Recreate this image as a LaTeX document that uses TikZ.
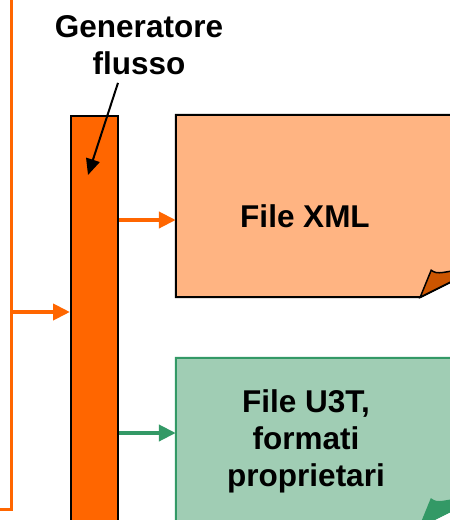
\documentclass[tikz,border=0pt]{standalone}
\usepackage{fontspec}
\setmainfont{Liberation Sans}
\usetikzlibrary{arrows.meta}

\definecolor{barorange}{HTML}{FF6600}
\definecolor{xmlfill}{HTML}{FFB482}
\definecolor{xmlfold}{HTML}{CC5500}
\definecolor{u3tfill}{HTML}{A0CDB4}
\definecolor{u3tline}{HTML}{339966}

\tikzset{
  label text/.style={font=\bfseries\fontsize{31.5}{37}\selectfont, align=center, inner sep=0pt},
  filebox/.style={rectangle, inner sep=0pt, minimum width=294pt},
  feed/.style={barorange, line width=3pt},
  flow/.style={line width=4pt, -{Triangle[length=17pt, width=16pt]}}
}

\begin{document}
\begin{tikzpicture}[x=1pt, y=-1pt]
  \useasboundingbox (0,0) rectangle (450,520);
  \clip (0,0) rectangle (450,520);

  % Linea di ingresso
  \coordinate (srctop) at (11,-5);
  \coordinate (srcbot) at (11,509);
  \coordinate (srcend) at (-5,509);
  \draw[feed] (srctop) -- (srcbot) -- (srcend);

  % Generatore
  \node[rectangle, draw, line width=2pt, fill=barorange, inner sep=0pt,
        minimum width=47pt, minimum height=430pt, anchor=north west] (bar) at (70,115) {};
  \draw[feed, flow] (srctop |- 0,312) -- (bar.west |- 0,312);

  % File XML
  \node[filebox, minimum height=182pt] (xml) at (323,206) {};
  \draw[line width=2pt, fill=xmlfill] (xml.north west) -- (xml.north east)
    -- ([shift={(0,-25)}]xml.south east) -- ([shift={(-50,0)}]xml.south east)
    -- (xml.south west) -- cycle;
  \draw[line width=1.5pt, fill=xmlfold] ([shift={(-50,0)}]xml.south east)
    -- ([shift={(-39,-27)}]xml.south east)
    .. controls ([shift={(-33,-22)}]xml.south east) and ([shift={(-26,-25)}]xml.south east)
    .. ([shift={(0,-30)}]xml.south east) -- ([shift={(0,-25)}]xml.south east) -- cycle;
  \node[label text] (xmltxt) at (305,216) {File XML};

  % File U3T
  \node[filebox, minimum height=168pt] (u3t) at (323,442) {};
  \draw[line width=2pt, draw=u3tline, fill=u3tfill] (u3t.north west) -- (u3t.north east)
    -- ([shift={(0,-25)}]u3t.south east) -- ([shift={(-50,0)}]u3t.south east)
    -- (u3t.south west) -- cycle;
  \draw[line width=1.5pt, draw=u3tline, fill=u3tline] ([shift={(-50,0)}]u3t.south east)
    -- ([shift={(-39,-27)}]u3t.south east)
    .. controls ([shift={(-33,-22)}]u3t.south east) and ([shift={(-26,-25)}]u3t.south east)
    .. ([shift={(0,-30)}]u3t.south east) -- ([shift={(0,-25)}]u3t.south east) -- cycle;
  \node[label text] (u3ttxt) at (306,441) {File U3T,\\formati\\proprietari};

  % Frecce di uscita
  \draw[flow, barorange] (bar.east |- 0,220) -- (xml.west |- 0,220);
  \draw[flow, u3tline] (bar.east |- 0,433) -- (u3t.west |- 0,433);

  % Etichetta
  \node[label text] (gen) at (139,45) {Generatore\\flusso};
  \draw[line width=2pt, -{Triangle[length=16pt, width=14pt]}]
    ([shift={(-21,8)}]gen.south) -- ([shift={(-6.5,60)}]bar.north);
\end{tikzpicture}
\end{document}
